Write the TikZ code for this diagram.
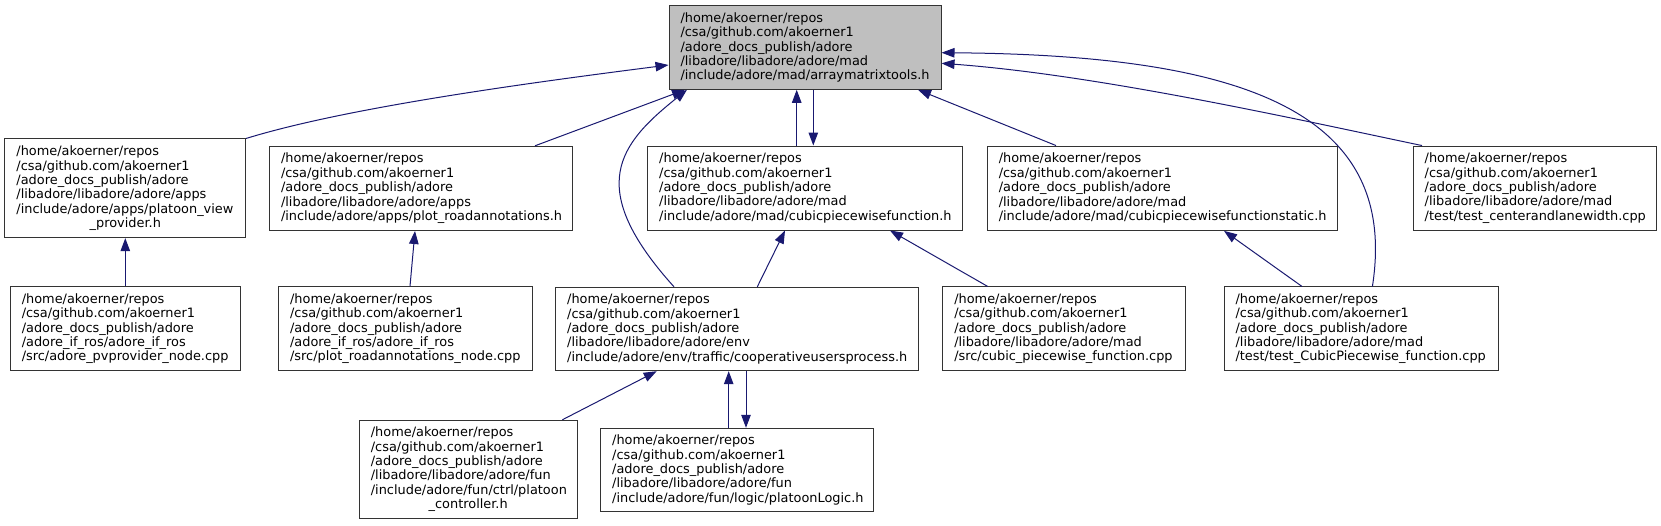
\documentclass[tikz,border=0pt]{standalone}
\usepackage{fontspec}
\setmainfont{DejaVu Sans}
\usetikzlibrary{arrows.meta}
\definecolor{rootgray}{HTML}{BFBFBF}
\definecolor{navyline}{HTML}{191970}
\definecolor{boxline}{HTML}{333333}
\newcommand\bxfont{\fontsize{12.9pt}{14.4pt}\selectfont\hyphenpenalty=10000\exhyphenpenalty=10000 }
\newcommand\ctr[1]{\makebox[\linewidth][c]{#1}}
\tikzset{
  box/.style={draw=boxline, line width=1pt, rectangle, fill=white, inner xsep=11.5pt, inner ysep=0pt, align=left, font=\bxfont},
  rootbox/.style={box, fill=rootgray},
  edge/.style={draw=navyline, line width=1pt, -{Triangle[length=13pt,width=9.5pt]}},
}
\begin{document}
\begin{tikzpicture}[x=1pt,y=-1pt]
\useasboundingbox (0,0) rectangle (1661,525);
% row 1
\node[rootbox, minimum width=272pt, minimum height=83.6pt, text width=249pt] (root) at (805,47.5)
 {/home/akoerner/repos\\/csa/github.com/akoerner1\\/adore\_docs\_publish/adore\\/libadore/libadore/adore/mad\\/include/adore/mad/arraymatrixtools.h};
% row 2
\node[box, minimum width=240.7pt, minimum height=98.7pt, text width=217.7pt] (A) at (125.3,188.3)
 {/home/akoerner/repos\\/csa/github.com/akoerner1\\/adore\_docs\_publish/adore\\/libadore/libadore/adore/apps\\/include/adore/apps/platoon\_view\\\ctr{\_provider.h}};
\node[box, minimum width=303pt, minimum height=84.2pt, text width=280pt] (B) at (421,188.4)
 {/home/akoerner/repos\\/csa/github.com/akoerner1\\/adore\_docs\_publish/adore\\/libadore/libadore/adore/apps\\/include/adore/apps/plot\_roadannotations.h};
\node[box, minimum width=314.6pt, minimum height=84pt, text width=291.6pt] (C) at (805,188)
 {/home/akoerner/repos\\/csa/github.com/akoerner1\\/adore\_docs\_publish/adore\\/libadore/libadore/adore/mad\\/include/adore/mad/cubicpiecewisefunction.h};
\node[box, minimum width=350.7pt, minimum height=84.3pt, text width=327.7pt] (D) at (1162.6,188.2)
 {/home/akoerner/repos\\/csa/github.com/akoerner1\\/adore\_docs\_publish/adore\\/libadore/libadore/adore/mad\\/include/adore/mad/cubicpiecewisefunctionstatic.h};
\node[box, minimum width=243.6pt, minimum height=84.3pt, text width=220.6pt] (E) at (1535,188.2)
 {/home/akoerner/repos\\/csa/github.com/akoerner1\\/adore\_docs\_publish/adore\\/libadore/libadore/adore/mad\\/test/test\_centerandlanewidth.cpp};
% row 3
\node[box, minimum width=230pt, minimum height=84pt, text width=207pt] (F) at (125.3,328.7)
 {/home/akoerner/repos\\/csa/github.com/akoerner1\\/adore\_docs\_publish/adore\\/adore\_if\_ros/adore\_if\_ros\\/src/adore\_pvprovider\_node.cpp};
\node[box, minimum width=253.4pt, minimum height=84pt, text width=230.4pt] (G) at (405.3,328.7)
 {/home/akoerner/repos\\/csa/github.com/akoerner1\\/adore\_docs\_publish/adore\\/adore\_if\_ros/adore\_if\_ros\\/src/plot\_roadannotations\_node.cpp};
\node[box, minimum width=363pt, minimum height=83.4pt, text width=340pt] (H) at (737.2,329)
 {/home/akoerner/repos\\/csa/github.com/akoerner1\\/adore\_docs\_publish/adore\\/libadore/libadore/adore/env\\/include/adore/env/traffic/cooperativeusersprocess.h};
\node[box, minimum width=242.3pt, minimum height=83.7pt, text width=219.3pt] (I) at (1063.9,328.8)
 {/home/akoerner/repos\\/csa/github.com/akoerner1\\/adore\_docs\_publish/adore\\/libadore/libadore/adore/mad\\/src/cubic\_piecewise\_function.cpp};
\node[box, minimum width=274.7pt, minimum height=83.7pt, text width=251.7pt] (J) at (1361.4,328.8)
 {/home/akoerner/repos\\/csa/github.com/akoerner1\\/adore\_docs\_publish/adore\\/libadore/libadore/adore/mad\\/test/test\_CubicPiecewise\_function.cpp};
% row 4
\node[box, minimum width=217.7pt, minimum height=98pt, text width=194.7pt] (K) at (468.2,469.3)
 {/home/akoerner/repos\\/csa/github.com/akoerner1\\/adore\_docs\_publish/adore\\/libadore/libadore/adore/fun\\/include/adore/fun/ctrl/platoon\\\ctr{\_controller.h}};
\node[box, minimum width=273pt, minimum height=83.4pt, text width=250pt] (L) at (737.2,470)
 {/home/akoerner/repos\\/csa/github.com/akoerner1\\/adore\_docs\_publish/adore\\/libadore/libadore/adore/fun\\/include/adore/fun/logic/platoonLogic.h};
% edges
\draw[edge] (A.north east) .. controls (345,108) and (520,84) .. ([yshift=-17.5pt]root.west);
\draw[edge] ([xshift=114pt]B.north) -- ([xshift=-120pt]root.south);
\draw[edge] ([xshift=-63.2pt]H.north) .. controls (584,187) and (619,144) .. ([xshift=-118pt]root.south);
\draw[edge] ([xshift=-8.3pt]C.north) -- ([xshift=-8.3pt]root.south);
\draw[edge] ([xshift=8.3pt]root.south) -- ([xshift=8.3pt]C.north);
\draw[edge] ([xshift=-106.6pt]D.north) -- ([xshift=113pt]root.south);
\draw[edge] ([xshift=-113pt]E.north) .. controls (1300,120) and (1100,75) .. ([yshift=-15.8pt]root.east);
\draw[edge] ([xshift=11pt]J.north) .. controls (1400,110) and (1240,55) .. ([yshift=-5.2pt]root.east);
\draw[edge] (F.north) -- (A.south);
\draw[edge] ([xshift=4.7pt]G.north) -- ([xshift=-6pt]B.south);
\draw[edge] ([xshift=20.1pt]H.north) -- ([xshift=-20pt]C.south);
\draw[edge] ([xshift=-76.2pt]I.north) -- ([xshift=85pt]C.south);
\draw[edge] ([xshift=-59.4pt]J.north) -- ([xshift=61.4pt]D.south);
\draw[edge] ([xshift=94.1pt]K.north) -- ([xshift=-80.5pt]H.south);
\draw[edge] ([xshift=-8.5pt]L.north) -- ([xshift=-8.5pt]H.south);
\draw[edge] ([xshift=8.8pt]H.south) -- ([xshift=8.8pt]L.north);
\end{tikzpicture}
\end{document}
